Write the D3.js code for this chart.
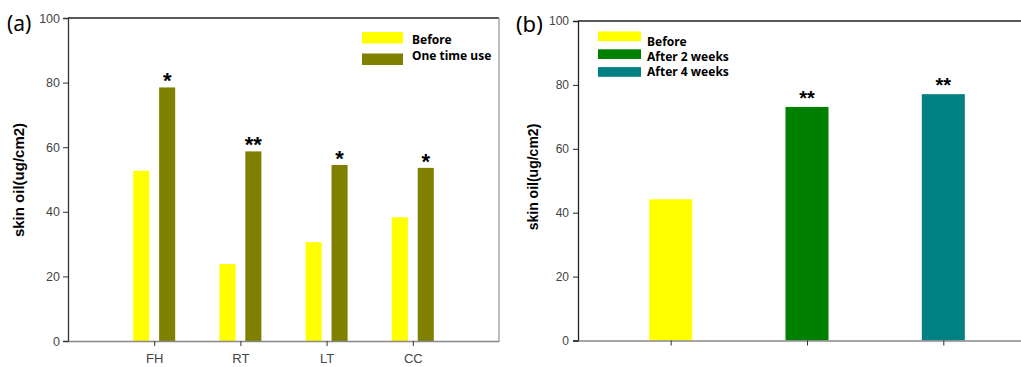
<!DOCTYPE html>
<html lang="en">
  <head>
    <meta charset="utf-8">
    <title>Skin oil</title>
    <style>
    body { margin: 0; background: #fff; }
    .tick text { font-family: "Liberation Sans", Arial, sans-serif; fill: #444; }
    .legend text { font-family: "Noto Sans", sans-serif; font-weight: bold; font-size: 12px; }
    </style>
    <script src="https://cdn.jsdelivr.net/npm/d3@7/dist/d3.min.js"></script>
  </head>
  <body>
    <script>

      // data, panel (a)
      var sitesA = ["FH", "RT", "LT", "CC"];
      var seriesA = ["Before", "One time use"];
      var beforeA = [52.7, 23.8, 30.6, 38.3];
      var afterA = [78.5, 58.7, 54.5, 53.6];
      var starsA = ["*", "**", "*", "*"];
      var colorsA = ["#ffff00", "#808000"];

      // data, panel (b)
      var stagesB = ["Before", "After 2 weeks", "After 4 weeks"];
      var valuesB = [44.2, 73.1, 77.1];
      var starsB = ["", "**", "**"];
      var colorsB = ["#ffff00", "#008000", "#008080"];

      var yTicks = [0, 20, 40, 60, 80, 100];

      var svg = d3.select("body").append("svg")
          .attr("width", 1021)
          .attr("height", 367);

      // ---------- panel (a) ----------
      var ya = d3.scaleLinear().domain([0, 100]).range([341, 18]);
      var xa = d3.scalePoint().domain(sitesA).range([68, 499]).padding(1);
      var sub = d3.scaleBand().domain(seriesA).range([-21, 21]).paddingInner(0.38);

      var ga = svg.append("g");

      // frame
      ga.append("line").attr("x1", 68).attr("x2", 499).attr("y1", 18).attr("y2", 18)
        .attr("stroke", "#222").attr("stroke-width", 1.3);
      ga.append("line").attr("x1", 499).attr("x2", 499).attr("y1", 18).attr("y2", 341)
        .attr("stroke", "#999").attr("stroke-width", 1.3);

      var rowsA = sitesA.map(function(s, i) {
        return { site: s, vals: [beforeA[i], afterA[i]], star: starsA[i] };
      });

      rowsA.forEach(function(r) {
        seriesA.forEach(function(k, j) {
          ga.append("rect")
            .attr("x", xa(r.site) + sub(k))
            .attr("width", sub.bandwidth())
            .attr("y", ya(r.vals[j]))
            .attr("height", ya(0) - ya(r.vals[j]))
            .attr("fill", colorsA[j]);
        });
        ga.append("text")
          .attr("x", xa(r.site) + sub(seriesA[1]) + sub.bandwidth() / 2)
          .attr("y", ya(r.vals[1]) + 1)
          .attr("text-anchor", "middle")
          .style("font", "bold 22px 'Liberation Sans', Arial, sans-serif")
          .text(r.star);
      });

      var axLa = ga.append("g").attr("transform", "translate(68,0)")
          .call(d3.axisLeft(ya).tickValues(yTicks).tickSize(5).tickPadding(3));
      axLa.select(".domain").attr("stroke", "#333").attr("stroke-width", 1.3);
      axLa.selectAll(".tick line").attr("stroke", "#333");
      axLa.selectAll(".tick text").style("font-size", "12.5px");

      var axBa = ga.append("g").attr("transform", "translate(0,341)")
          .call(d3.axisBottom(xa).tickSize(5).tickSizeOuter(0).tickPadding(8));
      axBa.select(".domain").attr("stroke", "#888").attr("stroke-width", 1.5);
      axBa.selectAll(".tick line").attr("stroke", "#333");
      axBa.selectAll(".tick text").style("font-size", "13px").attr("fill", "#333");

      ga.append("text")
        .attr("transform", "translate(24,180) rotate(-90)")
        .attr("text-anchor", "middle")
        .style("font", "bold 15px 'Liberation Sans', Arial, sans-serif")
        .text("skin oil(ug/cm2)");

      ga.append("text").attr("x", 7).attr("y", 31)
        .style("font", "21px 'Noto Sans', sans-serif")
        .text("(a)");

      var legA = ga.append("g").attr("class", "legend");
      seriesA.forEach(function(k, j) {
        legA.append("rect").attr("x", 362).attr("y", 32 + j * 21.5)
          .attr("width", 41).attr("height", 11.5).attr("fill", colorsA[j]);
        legA.append("text").attr("x", 412).attr("y", 44 + j * 16).text(k);
      });

      // ---------- panel (b) ----------
      var yb = d3.scaleLinear().domain([0, 100]).range([340.5, 21]);
      var xb = d3.scalePoint().domain(stagesB).range([578, 1036]).padding(0.68);
      var bw = 43;

      var gb = svg.append("g");

      gb.append("line").attr("x1", 578).attr("x2", 1021).attr("y1", 21).attr("y2", 21)
        .attr("stroke", "#222").attr("stroke-width", 1.3);

      gb.selectAll("rect.bar")
        .data(stagesB)
        .enter()
        .append("rect")
        .attr("class", "bar")
        .attr("x", d => xb(d) - bw / 2)
        .attr("width", bw)
        .attr("y", (d, i) => yb(valuesB[i]))
        .attr("height", (d, i) => yb(0) - yb(valuesB[i]))
        .attr("fill", (d, i) => colorsB[i]);

      gb.selectAll("text.star")
        .data(stagesB)
        .enter()
        .append("text")
        .attr("class", "star")
        .attr("x", d => xb(d))
        .attr("y", (d, i) => yb(valuesB[i]) - 2)
        .attr("text-anchor", "middle")
        .style("font", "bold 20px 'Liberation Sans', Arial, sans-serif")
        .text((d, i) => starsB[i]);

      var axLb = gb.append("g").attr("transform", "translate(578,0)")
          .call(d3.axisLeft(yb).tickValues(yTicks).tickSize(5).tickPadding(4));
      axLb.select(".domain").attr("stroke", "#222").attr("stroke-width", 1.3);
      axLb.selectAll(".tick line").attr("stroke", "#222");
      axLb.selectAll(".tick text").style("font-size", "12px");

      var axBb = gb.append("g").attr("transform", "translate(0,340.5)")
          .call(d3.axisBottom(xb).tickSize(5).tickSizeOuter(0).tickFormat(""));
      axBb.select(".domain").attr("stroke", "#888").attr("stroke-width", 1.5);
      axBb.selectAll(".tick line").attr("stroke", "#333");

      gb.append("text")
        .attr("transform", "translate(538,177) rotate(-90)")
        .attr("text-anchor", "middle")
        .style("font", "bold 14px 'Liberation Sans', Arial, sans-serif")
        .text("skin oil(ug/cm2)");

      gb.append("text").attr("x", 516).attr("y", 32)
        .style("font", "22px 'Noto Sans', sans-serif")
        .text("(b)");

      var legB = gb.append("g").attr("class", "legend");
      stagesB.forEach(function(k, j) {
        legB.append("rect").attr("x", 598).attr("y", 31.5 + j * 17.8)
          .attr("width", 43).attr("height", 9.7).attr("fill", colorsB[j]);
        legB.append("text").attr("x", 647).attr("y", 45.5 + j * 15.2).text(k);
      });

    </script>
  </body>
</html>
